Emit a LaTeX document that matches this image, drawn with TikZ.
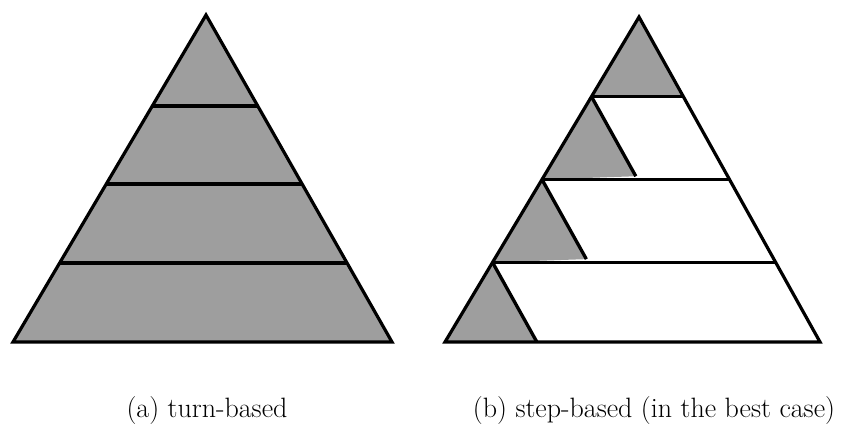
\documentclass[tikz,border=0pt]{standalone}
\usepackage{tikz}
\usetikzlibrary{calc}

\tikzset{
  pyr/.style={line width=2.4pt, line join=miter},
  lvl/.style={line width=2.5pt},
  grayfill/.style={fill=black!38},
  caption/.style={font=\fontsize{21}{24}\selectfont}
}

\begin{document}
\begin{tikzpicture}[x=0.75pt,y=-0.75pt]
  \useasboundingbox (0,0) rectangle (841,432);

  % (a) turn-based pyramid
  \coordinate (aTop) at (206,15);
  \coordinate (aL) at (13,342);
  \coordinate (aR) at (392,342);
  \fill[grayfill] (aTop) -- (aL) -- (aR) -- cycle;
  \foreach \t in {0.278,0.517,0.758}
    \draw[lvl] ($(aTop)!\t!(aL)$) -- ($(aTop)!\t!(aR)$);
  \draw[pyr] (aTop) -- (aL) -- (aR) -- cycle;

  % (b) step-based pyramid
  \coordinate (bTop) at (639,17);
  \coordinate (bL) at (445,342);
  \coordinate (bR) at (820,342);
  \foreach \t [count=\i] in {0.245,0.5,0.755}{
    \coordinate (bl\i) at ($(bTop)!\t!(bL)$);
    \coordinate (br\i) at ($(bTop)!\t!(bR)$);
  }
  % shaded steps
  \fill[grayfill] (bTop) -- (bl1) -- (br1) -- cycle;
  \foreach \a/\b in {bl1/bl2, bl2/bl3, bl3/bL}{
    \fill[grayfill] (\a) -- (\b) -- ($(\a)+(br1)-(bTop)$) -- cycle;
    \draw[lvl] (\a) -- ($(\a)+(br1)-(bTop)$);
  }
  \foreach \i in {1,2,3}
    \draw[lvl] (bl\i) -- (br\i);
  \draw[pyr] (bTop) -- (bL) -- (bR) -- cycle;

  % Labels
  \node[caption] (capA) at (207,411) {(a) turn-based};
  \node[caption] (capB) at (654,411) {(b) step-based (in the best case)};
\end{tikzpicture}
\end{document}
